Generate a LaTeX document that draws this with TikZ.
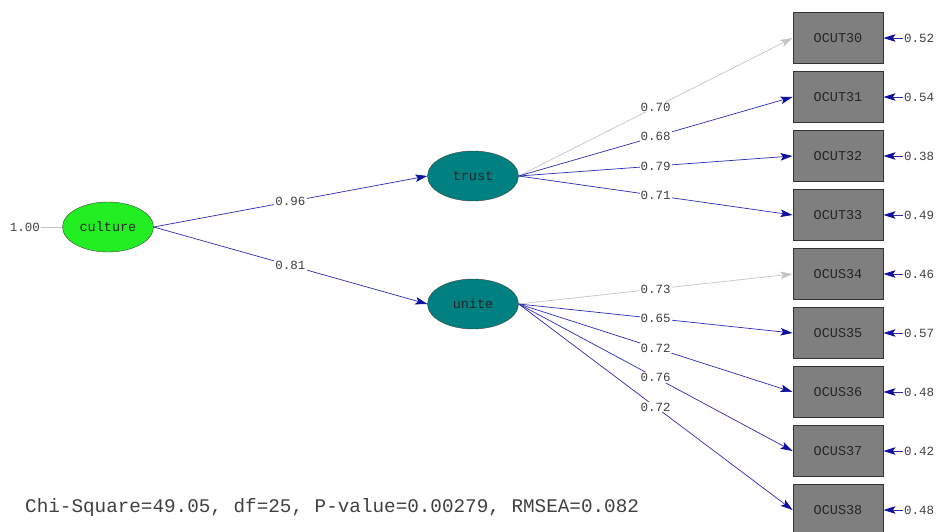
\documentclass[tikz,border=0pt]{standalone}
\usepackage{fontspec}
\setmonofont{Liberation Mono}
\usetikzlibrary{shapes.geometric,arrows.meta}
\definecolor{PathBlue}{HTML}{2A2AB4}
\definecolor{TipBlue}{HTML}{1010A0}
\definecolor{FixGray}{HTML}{C4C4C4}
\definecolor{LatGreen}{HTML}{22EE22}
\definecolor{LatTeal}{HTML}{008080}
\definecolor{ObsGray}{HTML}{7F7F7F}
\definecolor{LabGray}{HTML}{404040}

\begin{document}
\begin{tikzpicture}[x=1pt,y=-1pt,>={Stealth[length=12pt,width=7.5pt,inset=2.5pt]}]
  \tikzstyle{latent}=[ellipse,draw=black!75,minimum width=91pt,minimum height=50pt,
    inner sep=0pt,text=black!85,font=\fontsize{13.5}{14}\selectfont\ttfamily]
  \tikzstyle{obs}=[rectangle,draw=black!80,line width=0.9pt,fill=ObsGray,
    minimum width=90pt,minimum height=51pt,inner sep=0pt,text=black!85,
    font=\fontsize{13.5}{14}\selectfont\ttfamily]
  \tikzstyle{coef}=[fill=white,inner sep=1pt,text=LabGray,
    font=\fontsize{12.5}{13}\selectfont\ttfamily]
  \tikzstyle{resid}=[inner sep=1pt,anchor=west,text=LabGray,
    font=\fontsize{12.5}{13}\selectfont\ttfamily]
  \tikzstyle{load}=[-{Stealth[length=12pt,width=7.5pt,inset=2.5pt,color=TipBlue]},
    color=PathBlue,line width=0.7pt]
  \tikzstyle{fixed}=[->,color=FixGray,line width=0.7pt]
  \useasboundingbox (0,0) rectangle (938,532);

  % latent variables
  \node[latent,fill=LatGreen] (culture) at (108,227) {culture};
  \node[latent,fill=LatTeal] (trust) at (473,176) {trust};
  \node[latent,fill=LatTeal] (unite) at (473,304) {unite};
  \node[resid,anchor=east] (v0) at (41,227) {1.00};
  \draw[color=FixGray,line width=0.7pt] (v0) -- (culture);

  % observed variables
  \node[obs] (o30) at (838,38) {OCUT30};
  \node[obs] (o31) at (838,97) {OCUT31};
  \node[obs] (o32) at (838,156) {OCUT32};
  \node[obs] (o33) at (838,215) {OCUT33};
  \node[obs] (o34) at (838,274) {OCUS34};
  \node[obs] (o35) at (838,333) {OCUS35};
  \node[obs] (o36) at (838,392) {OCUS36};
  \node[obs] (o37) at (838,451) {OCUS37};
  \node[obs] (o38) at (838,510) {OCUS38};

  % error variances
  \node[resid] (e30) at (903,38) {0.52};
  \node[resid] (e31) at (903,97) {0.54};
  \node[resid] (e32) at (903,156) {0.38};
  \node[resid] (e33) at (903,215) {0.49};
  \node[resid] (e34) at (903,274) {0.46};
  \node[resid] (e35) at (903,333) {0.57};
  \node[resid] (e36) at (903,392) {0.48};
  \node[resid] (e37) at (903,451) {0.42};
  \node[resid] (e38) at (903,510) {0.48};
  \draw[load] (e30) -- (o30);
  \draw[load] (e31) -- (o31);
  \draw[load] (e32) -- (o32);
  \draw[load] (e33) -- (o33);
  \draw[load] (e34) -- (o34);
  \draw[load] (e35) -- (o35);
  \draw[load] (e36) -- (o36);
  \draw[load] (e37) -- (o37);
  \draw[load] (e38) -- (o38);

  % second order paths
  \draw[load] (culture.east) -- node[coef] {0.96} (trust.west);
  \draw[load] (culture.east) -- node[coef] {0.81} (unite.west);

  % loadings
  \draw[fixed] (trust.east) -- node[coef] {0.70} (o30.west);
  \draw[load] (trust.east) -- node[coef] {0.68} (o31.west);
  \draw[load] (trust.east) -- node[coef] {0.79} (o32.west);
  \draw[load] (trust.east) -- node[coef] {0.71} (o33.west);
  \draw[fixed] (unite.east) -- node[coef] {0.73} (o34.west);
  \draw[load] (unite.east) -- node[coef] {0.65} (o35.west);
  \draw[load] (unite.east) -- node[coef] {0.72} (o36.west);
  \draw[load] (unite.east) -- node[coef] {0.76} (o37.west);
  \draw[load] (unite.east) -- node[coef] {0.72} (o38.west);

  \node[anchor=west,inner sep=0pt,text=LabGray,font=\fontsize{19.3}{20}\selectfont\ttfamily]
    (fit) at (25,508) {Chi-Square=49.05, df=25, P-value=0.00279, RMSEA=0.082};
\end{tikzpicture}
\end{document}
